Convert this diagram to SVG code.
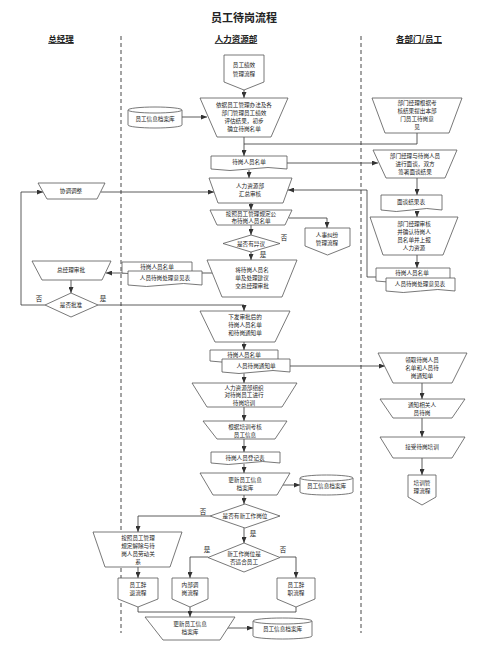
<svg xmlns="http://www.w3.org/2000/svg" width="499" height="656" viewBox="0 0 499 656">
<defs>
<marker id="ar" markerUnits="userSpaceOnUse" markerWidth="6" markerHeight="5" refX="6" refY="2.5" orient="auto"><path d="M0,0 L6,2.5 L0,5 Z" fill="#333"/></marker>
<style>
.s{fill:#fff;stroke:#555;stroke-width:0.8}
.c{fill:none;stroke:#333;stroke-width:0.8}
.ca{fill:none;stroke:#333;stroke-width:0.8;marker-end:url(#ar)}
.ln{stroke:#333;stroke-width:0.9;stroke-dasharray:4,3}
text{font-family:"Noto Sans CJK SC","Noto Sans",sans-serif;font-size:5.6px;fill:#222;text-anchor:middle;dominant-baseline:central}
.t{font-size:11px;font-weight:bold}
.h{font-size:8.5px;font-weight:bold;text-decoration:underline}
.lb{font-size:6.5px}
</style>
</defs>
<rect width="499" height="656" fill="#fff"/>
<text class="t" x="244" y="17">员工待岗流程</text>
<text class="h" x="61" y="38">总经理</text>
<text class="h" x="236" y="38">人力资源部</text>
<text class="h" x="419" y="38">各部门/员工</text>
<line class="ln" x1="121" y1="36" x2="121" y2="633"/>
<line class="ln" x1="361" y1="36" x2="361" y2="633"/>

<g id="connectors">
<path class="ca" d="M244,90 V98"/>
<path class="ca" d="M182,117 H207"/>
<path class="ca" d="M244,137 V156"/>
<path class="c" d="M417,133 V144 H244"/>
<path class="ca" d="M287,163 H378"/>
<path class="ca" d="M417,178 V195"/>
<path class="ca" d="M417,211 V217"/>
<path class="ca" d="M417,255 V268"/>
<path class="ca" d="M376,277 H367 V190 H288"/>
<path class="ca" d="M249,170 V178"/>
<path class="ca" d="M101,192 H214"/>
<path class="ca" d="M45,305 H21 V192 H43"/>
<path class="ca" d="M251,203 V210"/>
<path class="ca" d="M289,218 H327 V228"/>
<path class="ca" d="M251,225 V235"/>
<path class="ca" d="M251,252 V260"/>
<path class="ca" d="M212,273 H106"/>
<path class="ca" d="M71,280 V293"/>
<path class="ca" d="M98,305 H244 V311"/>
<path class="ca" d="M244,342 V350"/>
<path class="ca" d="M290,366 H385"/>
<path class="ca" d="M244,373 V383"/>
<path class="ca" d="M422,383 V399"/>
<path class="ca" d="M422,418 V437"/>
<path class="ca" d="M422,458 V475"/>
<path class="ca" d="M244,407 V421"/>
<path class="ca" d="M244,439 V452"/>
<path class="ca" d="M244,464 V473"/>
<path class="ca" d="M283,485 H300"/>
<path class="ca" d="M244,495 V504"/>
<path class="ca" d="M210,516 H138 V532"/>
<path class="ca" d="M244,528 V543"/>
<path class="ca" d="M138,567 V578"/>
<path class="ca" d="M208,557 H190 V578"/>
<path class="ca" d="M280,557 H296 V578"/>
<path class="c" d="M138,607 V612 H296 V607"/>
<path class="ca" d="M190,607 V617"/>
<path class="ca" d="M228,628 H253"/>
</g>

<g id="n1"><path class="s" d="M224,55 H264 V82 L244,90 L224,82 Z"/><text x="244" y="65">员工绩效</text><text x="244" y="74">管理流程</text></g>
<g id="n2"><polygon class="s" points="200,98 288,98 271,137 217,137"/><text x="244" y="105">依据员工管理办法及各</text><text x="244" y="113">部门管理员工绩效</text><text x="244" y="121">评估结果，初步</text><text x="244" y="129">确立待岗名单</text></g>
<g id="n3"><path class="s" d="M128,110 V125 A27,3 0 0 0 182,125 V110"/><ellipse class="s" cx="155" cy="110" rx="27" ry="3"/><text x="155" y="119">员工信息档案库</text></g>
<g id="n4"><path class="s" d="M211,156 H287 V169 Q268,166 249,169 T211,169 Z"/><text x="249" y="162">待岗人员名单</text></g>
<g id="n5"><polygon class="s" points="372,98 462,98 449,133 385,133"/><text x="417" y="103">部门经理根据考</text><text x="417" y="111">核结果提出本部</text><text x="417" y="119">门员工待岗意</text><text x="417" y="127">见</text></g>
<g id="n6"><polygon class="s" points="373,150 457,150 445,178 386,178"/><text x="415" y="155.5">部门经理与待岗人员</text><text x="415" y="163.5">进行面谈，双方</text><text x="415" y="171.5">签署面谈结果</text></g>
<g id="n7"><path class="s" d="M381,195 H442 V210 Q426.75,207 411.5,210 T381,210 Z"/><text x="411" y="202">面谈结果表</text></g>
<g id="n8"><polygon class="s" points="370,217 458,217 443,255 383,255"/><text x="414" y="224">部门经理审核</text><text x="414" y="232">并确认待岗人</text><text x="414" y="240">员名单并上报</text><text x="414" y="248">人力资源</text></g>
<g id="n9"><path class="s" d="M376,268 H450 V281 Q431.5,278 413,281 T376,281 Z"/><text x="412" y="273">待岗人员名单</text><path class="s" d="M386,278 H455 V291 Q437.75,288 420.5,291 T386,291 Z"/><text x="420" y="284">人员待岗处理意见表</text></g>
<g id="n10"><polygon class="s" points="209,178 292,178 283,203 218,203"/><text x="250" y="186">人力资源部</text><text x="250" y="194">汇总审核</text></g>
<g id="n11"><polygon class="s" points="38,183 105,183 97,199 47,199"/><text x="71" y="191">协调调整</text></g>
<g id="n12"><polygon class="s" points="210,210 292,210 285,225 217,225"/><text x="251" y="213.8">按照员工管理规定公</text><text x="251" y="221.2">布待岗人员名单</text></g>
<g id="n13"><path class="s" d="M305,228 H350 V246 L327.5,255 L305,246 Z"/><text x="327" y="235">人事纠纷</text><text x="327" y="243">管理流程</text></g>
<g id="n14"><polygon class="s" points="251,235 280,243.5 251,252 223,243.5"/><text x="251" y="243.5">是否有异议</text></g>
<text class="lb" x="284" y="237">否</text>
<text class="lb" x="263" y="254">是</text>
<g id="n15"><polygon class="s" points="207,260 297,260 282,297 222,297"/><text x="252" y="270">将待岗人员名</text><text x="252" y="278">单及处理建议</text><text x="252" y="286">交总经理审批</text></g>
<g id="n16"><polygon class="s" points="32,261 111,261 102,280 42,280"/><text x="71" y="270">总经理审批</text></g>
<g id="n17"><path class="s" d="M122,262 H192 V273 Q174.5,270 157,273 T122,273 Z"/><text x="157" y="267">待岗人员名单</text><path class="s" d="M128,271 H202 V285 Q183.5,282 165,285 T128,285 Z"/><text x="165" y="278">人员待岗处理意见表</text></g>
<g id="n18"><polygon class="s" points="71,293 98,305 71,317 45,305"/><text x="71" y="305">是否批准</text></g>
<text class="lb" x="39" y="298">否</text>
<text class="lb" x="103" y="298">是</text>
<g id="n19"><polygon class="s" points="200,311 290,311 275,342 215,342"/><text x="245" y="317">下发审批后的</text><text x="245" y="325">待岗人员名单</text><text x="245" y="333">和待岗通知单</text></g>
<g id="n20"><path class="s" d="M210,350 H278 V361 Q261,358 244,361 T210,361 Z"/><text x="244" y="355">待岗人员名单</text><path class="s" d="M222,359 H290 V372 Q273,369 256,372 T222,372 Z"/><text x="256" y="366">人员待岗通知单</text></g>
<g id="n21"><polygon class="s" points="378,353 467,353 452,383 393,383"/><text x="422" y="360">领取待岗人员</text><text x="422" y="368">名单和人员待</text><text x="422" y="376">岗通知单</text></g>
<g id="n22"><polygon class="s" points="380,399 465,399 452,418 393,418"/><text x="422" y="405">通知相关人</text><text x="422" y="413">员待岗</text></g>
<g id="n23"><polygon class="s" points="380,437 465,437 452,458 393,458"/><text x="422" y="447">接受待岗培训</text></g>
<g id="n24"><path class="s" d="M408,475 H436 V497 L422,505 L408,497 Z"/><text x="422" y="483">培训管</text><text x="422" y="491">理流程</text></g>
<g id="n25"><polygon class="s" points="192,383 297,383 282,407 207,407"/><text x="244" y="387.5">人力资源部组织</text><text x="244" y="395.3">对待岗员工进行</text><text x="244" y="403">待岗培训</text></g>
<g id="n26"><polygon class="s" points="203,421 287,421 275,439 217,439"/><text x="245" y="427">根据培训考核</text><text x="245" y="435">员工信息</text></g>
<g id="n27"><path class="s" d="M211,452 H280 V463 Q262.75,460 245.5,463 T211,463 Z"/><text x="245" y="457.5">待岗人员登记表</text></g>
<g id="n28"><polygon class="s" points="200,473 290,473 277,495 213,495"/><text x="245" y="480">更新员工信息</text><text x="245" y="488">档案库</text></g>
<g id="n29"><path class="s" d="M300,478 V492 A26.5,3 0 0 0 353,492 V478"/><ellipse class="s" cx="326.5" cy="478" rx="26.5" ry="3"/><text x="326.5" y="486">员工信息档案库</text></g>
<g id="n30"><polygon class="s" points="245,504 280,516 245,528 210,516"/><text x="245" y="516">是否有新工作岗位</text></g>
<text class="lb" x="203" y="511">否</text>
<text class="lb" x="253" y="533">是</text>
<g id="n31"><polygon class="s" points="93,532 182,532 170,567 105,567"/><text x="138" y="538">按照员工管理</text><text x="138" y="546">规定解除与待</text><text x="138" y="554">岗人员劳动关</text><text x="138" y="562">系</text></g>
<g id="n32"><path class="s" d="M118,578 H158 V599 L138,607 L118,599 Z"/><text x="138" y="585">员工辞</text><text x="138" y="593">退流程</text></g>
<g id="n33"><polygon class="s" points="244,543 280,557.5 244,572 208,557.5"/><text x="244" y="553.5">新工作岗位是</text><text x="244" y="561.5">否适合员工</text></g>
<text class="lb" x="207" y="549">是</text>
<text class="lb" x="283" y="549">否</text>
<g id="n34"><path class="s" d="M172,578 H208 V599 L190,607 L172,599 Z"/><text x="190" y="585">内部调</text><text x="190" y="593">岗流程</text></g>
<g id="n35"><path class="s" d="M277,578 H315 V599 L296,607 L277,599 Z"/><text x="296" y="585">员工辞</text><text x="296" y="593">职流程</text></g>
<g id="n36"><polygon class="s" points="145,617 235,617 220,640 163,640"/><text x="190" y="624">更新员工信息</text><text x="190" y="632">档案库</text></g>
<g id="n37"><path class="s" d="M253,621 V636 A29.5,3 0 0 0 312,636 V621"/><ellipse class="s" cx="282.5" cy="621" rx="29.5" ry="3"/><text x="282.5" y="629">员工信息档案库</text></g>
</svg>
